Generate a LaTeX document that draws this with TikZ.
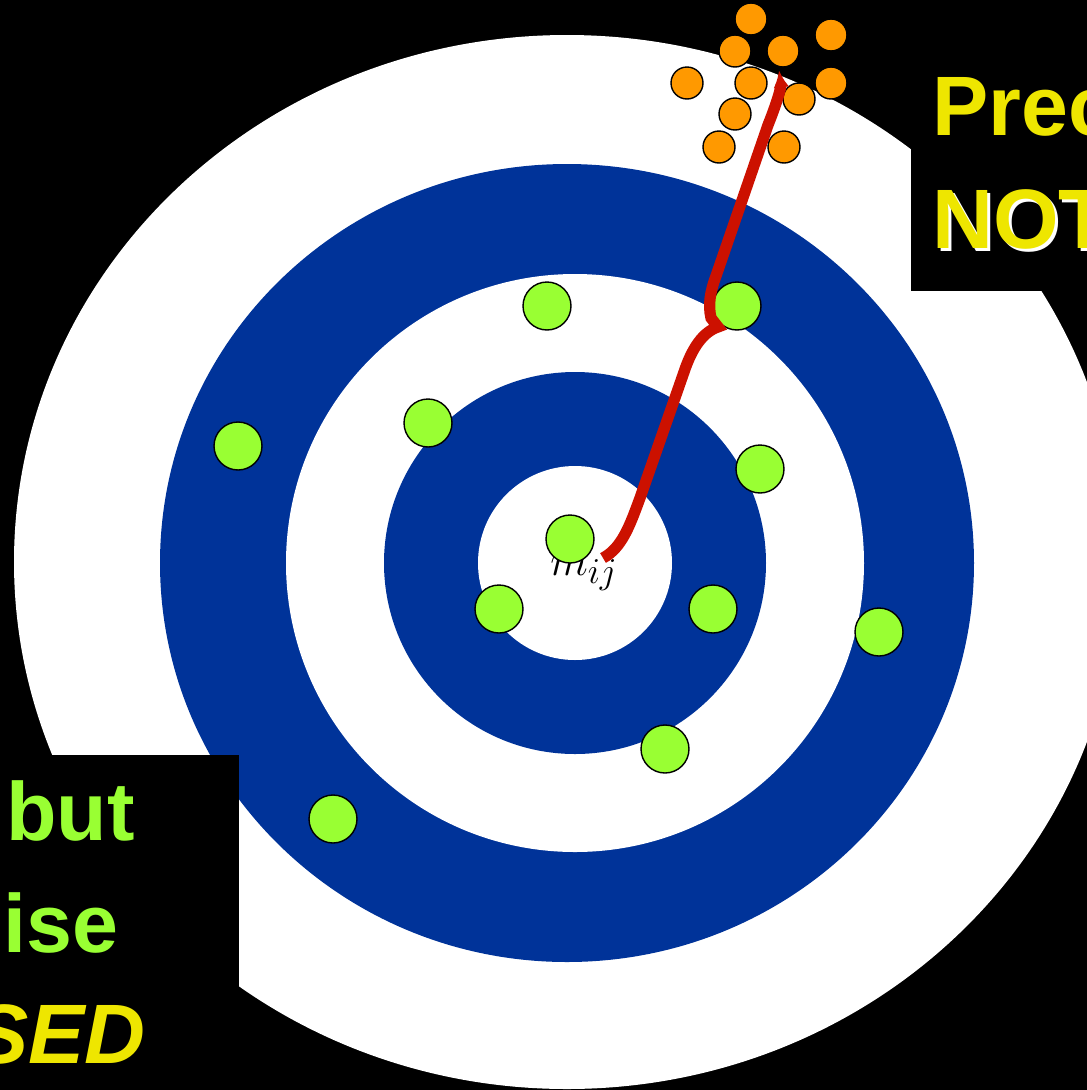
\documentclass[tikz,border=0pt]{standalone}
\usepackage{fontspec}
\setsansfont{Liberation Sans}
\usetikzlibrary{arrows.meta}
\definecolor{ringblue}{HTML}{003399}
\definecolor{dotgreen}{HTML}{99FF33}
\definecolor{dotorange}{HTML}{FF9900}
\definecolor{hityellow}{HTML}{EEE600}
\definecolor{pathred}{HTML}{CC1100}

\begin{document}
\begin{tikzpicture}[x=0.02cm,y=-0.02cm,
  gdot/.style={circle,draw=black,line width=0.8pt,fill=dotgreen,minimum size=0.96cm,inner sep=0pt},
  odot/.style={circle,draw=black,line width=0.8pt,fill=dotorange,minimum size=0.64cm,inner sep=0pt},
  yword/.style={font=\fontsize{48}{52}\selectfont\sffamily\bfseries,text=hityellow,inner sep=0pt,anchor=base west},
  gword/.style={font=\fontsize{47}{52}\selectfont\sffamily\bfseries,text=dotgreen,inner sep=0pt,anchor=base west},
  redpath/.style={pathred,line width=6.4pt,-{Latex[length=10pt,width=9pt]}}]
  \useasboundingbox (0,0) rectangle (1087,1090);
  \clip (0,0) rectangle (1087,1090);
  \fill[black] (0,0) rectangle (1087,1090);
  % the target
  \fill[white] (567,562) ellipse [x radius=553,y radius=527];
  \fill[ringblue] (567,563) ellipse [x radius=407,y radius=399];
  \fill[white] (575,563) circle [radius=289];
  \fill[ringblue] (575,563) circle [radius=191];
  \fill[white] (575,563) circle [radius=97];
  % text boxes
  \fill[black] (911,-10) rectangle (1100,291);
  \fill[black] (-10,755) rectangle (239,1100);
  \node[yword] (prec) at (932,135) {Prec};
  \node[yword,text=white] (notshadow) at (935,251) {NOT};
  \node[yword] (not) at (932,248) {NOT};
  \node[gword] (but) at (6,840) {but};
  \node[gword] (ise) at (3,952) {ise};
  \node[gword,text=hityellow,font=\fontsize{48}{52}\selectfont\sffamily\bfseries\itshape,anchor=base east]
       (sed) at (146,1063) {SED};
  \node[anchor=base west,inner sep=0pt,font=\fontsize{29}{32}\selectfont] (mij) at (550,575) {$m_{ij}$};
  % shots
  \foreach \p [count=\i] in {(547,306),(737,306),(238,446),(428,423),(760,469),(570,539),
                             (499,609),(713,609),(879,632),(665,749),(333,819)}{
    \node[gdot] (g\i) at \p {};
  }
  \foreach \p [count=\i] in {(751,19),(831,35),(735,51),(783,51),(687,83),(751,83),
                             (831,83),(799,99),(735,114),(719,147),(784,147)}{
    \node[odot] (o\i) at \p {};
  }
  % drift of the estimate
  \coordinate (start) at (603,558);
  \coordinate (tip) at (779,70);
  \draw[redpath] (start) .. controls (622,548) and (630,525) .. (640,498)
       -- (684,372) .. controls (692,348) and (703,332) .. (718,327)
       -- (711,318) .. controls (708,305) and (710,292) .. (716,276)
       -- (768,125) .. controls (780,95) and (781,85) .. (tip);
\end{tikzpicture}
\end{document}
